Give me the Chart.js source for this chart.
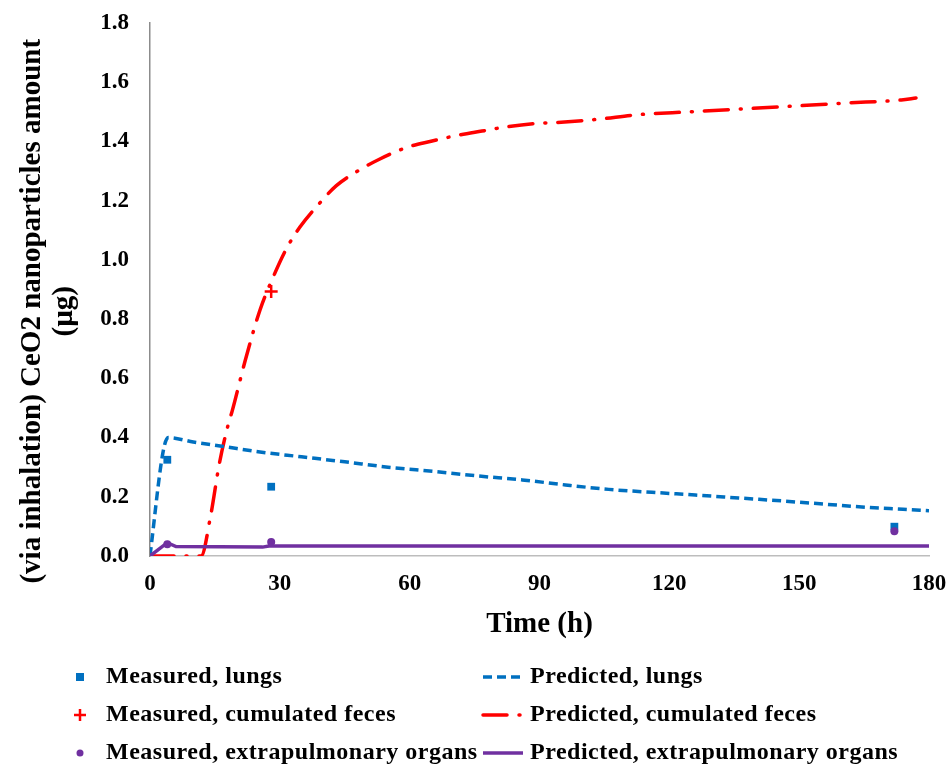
<!DOCTYPE html>
<html>
<head>
<meta charset="utf-8">
<script src="https://cdn.jsdelivr.net/npm/chart.js@4.4.1/dist/chart.umd.min.js"></script>
<style>
  body { margin: 0; background: #fff; }
  #wrap { width: 952px; height: 764px; position: relative; }
</style>
</head>
<body>
<div id="wrap"><canvas id="chart"></canvas></div>
<script>
// measured values (h, µg)
const measuredTimes = [4, 28, 172];
const measuredLungs = [0.325, 0.234, 0.099];
const measuredFecesTimes = [28];
const measuredFeces = [0.893];
const measuredExtra = [0.04, 0.047, 0.084];

// model predictions
const predLungsTimes = [0, 3, 4.2, 10, 17, 25, 35, 45, 55, 66, 76, 86, 96, 106, 116, 126, 136, 146, 156, 166, 174, 180];
const predLungs = [0, 0.35, 0.40, 0.385, 0.37, 0.352, 0.335, 0.318, 0.30, 0.285, 0.27, 0.257, 0.24, 0.225, 0.215, 0.206, 0.196, 0.186, 0.175, 0.164, 0.158, 0.153];

const predFecesTimes = [0, 11.8, 14, 16, 18, 19, 22, 25.4, 28.4, 31.6, 34.6, 38.8, 43, 48, 53, 59.4, 64.7, 70.9, 76.7, 82.7, 88.5, 95, 103.5, 112.5, 124.7, 137, 149.4, 161, 173.6, 177];
const predFeces = [0, 0, 0.135, 0.31, 0.44, 0.49, 0.66, 0.83, 0.94, 1.04, 1.11, 1.185, 1.25, 1.30, 1.34, 1.38, 1.40, 1.42, 1.435, 1.45, 1.46, 1.465, 1.475, 1.49, 1.50, 1.51, 1.52, 1.53, 1.54, 1.547];

const predExtraTimes = [0, 4, 6, 26, 27.5, 180];
const predExtra = [0, 0.045, 0.032, 0.030, 0.034, 0.034];

const xTicks = [0, 30, 60, 90, 120, 150, 180];

const FONT = "'Times New Roman', 'Liberation Serif', serif";
const BLUE = '#0070C0', RED = '#FF0000', PURPLE = '#7030A0';

function pts(xs, ys) {
    return xs.map((x, i) => ({ x: x, y: ys[i] }));
}

// two-column legend under the plot
const legendPlugin = {
    id: 'twoColLegend',
    afterDraw(chart) {
        const ctx = chart.ctx;
        const rowsY = [677, 715, 753];
        chart.data.datasets.forEach((ds, i) => {
            const col = i % 2;
            const y = rowsY[Math.floor(i / 2)];
            ctx.save();
            if (col === 0) {
                const x = 80;
                ctx.fillStyle = ds.backgroundColor;
                ctx.strokeStyle = ds.borderColor;
                if (ds.pointStyle === 'rect') {
                    ctx.fillRect(x - 4, y - 4, 8, 8);
                } else if (ds.pointStyle === 'cross') {
                    ctx.lineWidth = 2.5;
                    ctx.beginPath();
                    ctx.moveTo(x - 6, y); ctx.lineTo(x + 6, y);
                    ctx.moveTo(x, y - 6); ctx.lineTo(x, y + 6);
                    ctx.stroke();
                } else {
                    ctx.beginPath();
                    ctx.arc(x, y, 3.5, 0, Math.PI * 2);
                    ctx.fill();
                }
            } else {
                ctx.strokeStyle = ds.borderColor;
                ctx.lineWidth = ds.borderWidth;
                ctx.lineCap = ds.borderCapStyle || 'butt';
                ctx.setLineDash(ds.borderDash || []);
                ctx.beginPath();
                ctx.moveTo(483, y);
                ctx.lineTo(523, y);
                ctx.stroke();
                ctx.setLineDash([]);
            }
            ctx.fillStyle = '#000';
            ctx.font = 'bold 24px ' + FONT;
            ctx.letterSpacing = '0.5px';
            ctx.textBaseline = 'middle';
            ctx.textAlign = 'left';
            ctx.fillText(ds.label, col === 0 ? 106 : 530, y);
            ctx.restore();
        });
    }
};

const ctx = document.getElementById('chart').getContext('2d');
new Chart(ctx, {
    type: 'scatter',
    data: {
        datasets: [
            {
                label: 'Measured, lungs',
                data: pts(measuredTimes, measuredLungs),
                pointStyle: 'rect', pointRadius: 5.5, borderWidth: 0,
                backgroundColor: BLUE, borderColor: BLUE, order: 0
            },
            {
                label: 'Predicted, lungs',
                data: pts(predLungsTimes, predLungs),
                showLine: true, pointRadius: 0, borderWidth: 3.5,
                borderDash: [9, 5], borderColor: BLUE, backgroundColor: BLUE,
                cubicInterpolationMode: 'monotone', order: 2
            },
            {
                label: 'Measured, cumulated feces',
                data: pts(measuredFecesTimes, measuredFeces),
                pointStyle: 'cross', pointRadius: 6.5, borderWidth: 2.5,
                backgroundColor: RED, borderColor: RED, order: 0
            },
            {
                label: 'Predicted, cumulated feces',
                data: pts(predFecesTimes, predFeces),
                showLine: true, pointRadius: 0, borderWidth: 3.5,
                borderDash: [24, 12, 1, 12], borderCapStyle: 'round',
                borderColor: RED, backgroundColor: RED,
                cubicInterpolationMode: 'monotone', order: 2
            },
            {
                label: 'Measured, extrapulmonary organs',
                data: pts(measuredTimes, measuredExtra),
                pointStyle: 'circle', pointRadius: 4, borderWidth: 0,
                backgroundColor: PURPLE, borderColor: PURPLE, order: -1
            },
            {
                label: 'Predicted, extrapulmonary organs',
                data: pts(predExtraTimes, predExtra),
                showLine: true, pointRadius: 0, borderWidth: 3.5,
                borderColor: PURPLE, backgroundColor: PURPLE, order: 1
            }
        ]
    },
    options: {
        responsive: true,
        maintainAspectRatio: false,
        animation: false,
        layout: { padding: { top: 23, right: 23, bottom: 118, left: 0 } },
        plugins: {
            legend: { display: false },
            tooltip: { enabled: false }
        },
        scales: {
            x: {
                type: 'linear', min: 0, max: 180,
                afterBuildTicks: (s) => { s.ticks = xTicks.map(v => ({ value: v })); },
                afterFit: (s) => { s.height = 90; s.paddingLeft = 0; s.paddingRight = 0; },
                grid: { display: false, drawTicks: false },
                border: { color: '#bdbdbd', width: 1.5 },
                ticks: { color: '#000', padding: 14, font: { family: FONT, size: 23, weight: 'bold' } },
                title: {
                    display: true, text: 'Time (h)', color: '#000',
                    font: { family: FONT, size: 29, weight: 'bold', lineHeight: 1.2 }
                }
            },
            y: {
                min: 0, max: 1.8,
                afterFit: (s) => { s.width = 150; s.paddingTop = 0; s.paddingBottom = 0; },
                grid: { display: false, drawTicks: false },
                border: { color: '#8c8c8c', width: 1.5 },
                ticks: {
                    stepSize: 0.2, color: '#000', padding: 21,
                    font: { family: FONT, size: 23, weight: 'bold' },
                    callback: (v) => v.toFixed(1)
                },
                title: {
                    display: true, color: '#000',
                    text: ['(via inhalation) CeO2 nanoparticles amount      ', '(µg)      '],
                    padding: { top: 17, bottom: 4 },
                    font: { family: FONT, size: 29, weight: 'bold', lineHeight: 1.1 }
                }
            }
        }
    },
    plugins: [legendPlugin]
});
</script>
</body>
</html>
